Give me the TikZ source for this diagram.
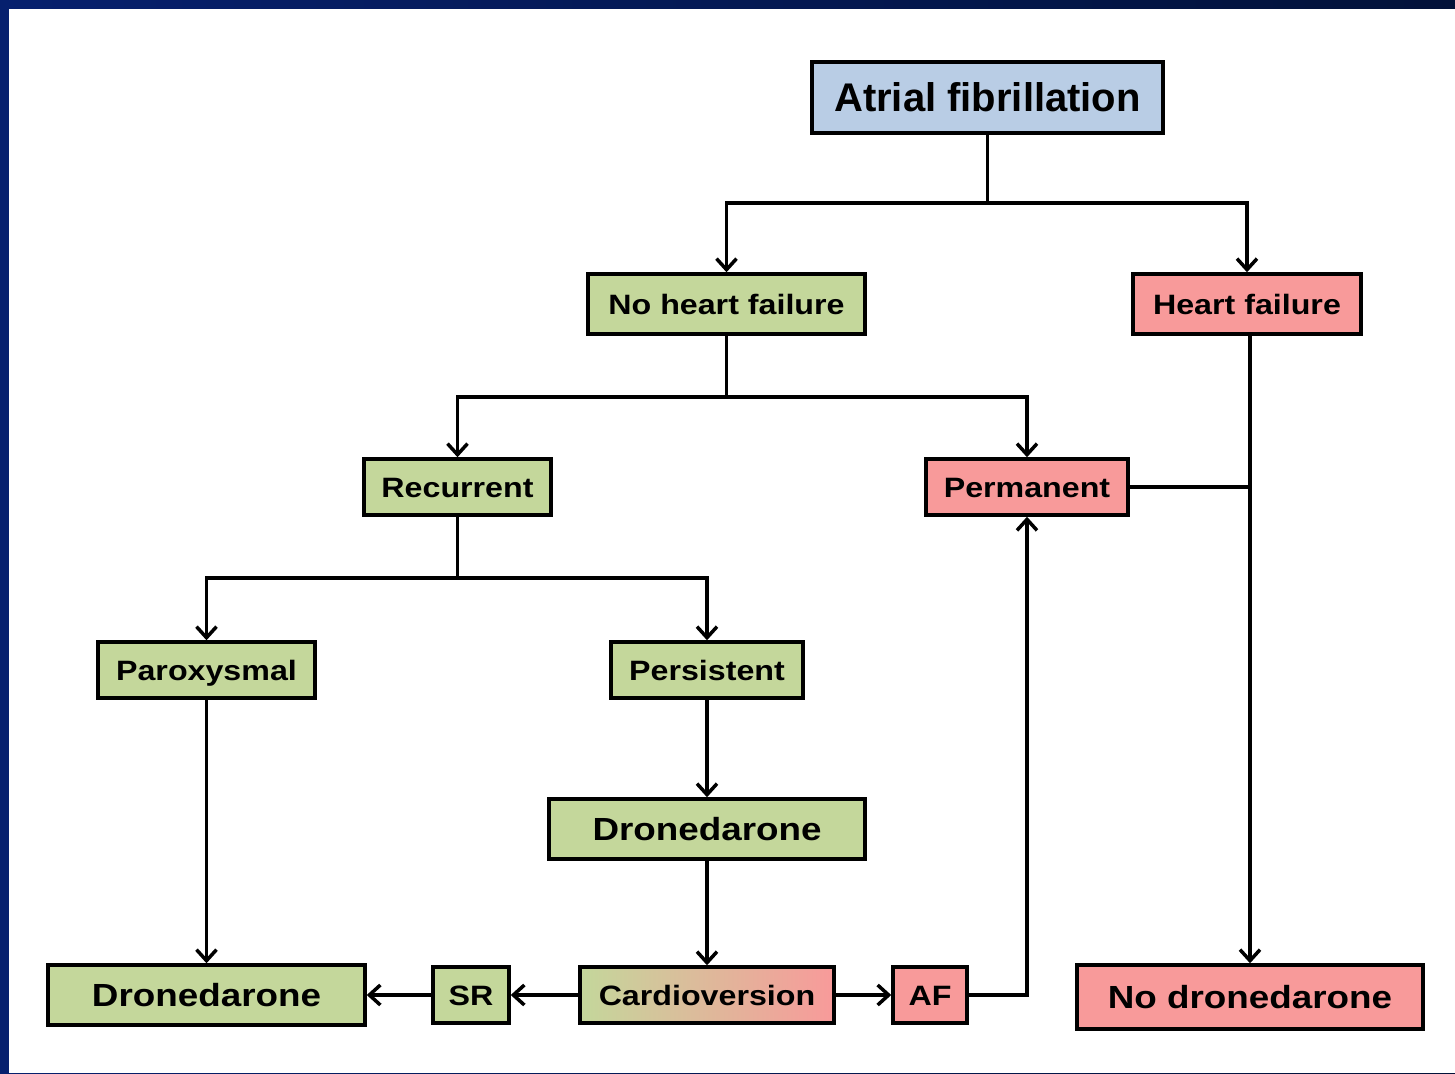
\documentclass[tikz,border=0pt]{standalone}
\usepackage{fontspec}
\setmainfont{Liberation Sans}
\newfontfamily\widesans[FakeStretch=1.15]{Liberation Sans}
\usetikzlibrary{arrows.meta}
\definecolor{slidenavy}{HTML}{06206E}
\definecolor{slidedark}{HTML}{021239}
\definecolor{boxgreen}{HTML}{C4D79B}
\definecolor{boxpink}{HTML}{F89A9A}
\definecolor{boxblue}{HTML}{B9CDE5}
\tikzset{
  box/.style={draw=black, line width=3.5pt, inner sep=0pt, align=center, text=black},
  greenbox/.style={box, fill=boxgreen},
  pinkbox/.style={box, fill=boxpink},
  % text boxes sized to the capital height so the letters sit centred
  small/.style={font=\widesans\bfseries\fontsize{28}{30}\selectfont,
                text height=20pt, text depth=0pt},
  large/.style={font=\widesans\bfseries\fontsize{32}{34}\selectfont,
                text height=23pt, text depth=0pt},
  title/.style={font=\bfseries\fontsize{40}{42}\selectfont,
                text height=28.6pt, text depth=0pt},
  link/.style={line width=3.5pt},
  arr/.style={link, -{Straight Barb[length=11pt,width=20pt]}},
}
\begin{document}
\begin{tikzpicture}[x=1pt,y=-1pt]
  % slide background with white panel
  \shade[left color=slidenavy, right color=slidedark] (0,0) rectangle (1455,1073);
  \fill[white] (9,9) rectangle (1455,1073);
  \useasboundingbox (0,0) rectangle (1455,1073);

  % boxes
  \node[box, fill=boxblue, title, minimum width=351pt, minimum height=71pt] (atf) at (987.5,97.5) {Atrial fibrillation};
  \node[greenbox, small, minimum width=277pt, minimum height=60pt] (nohf) at (726.5,304) {No heart failure};
  \node[pinkbox, small, minimum width=228pt, minimum height=60pt] (hf) at (1247,304) {Heart failure};
  \node[greenbox, small, minimum width=187pt, minimum height=56pt] (rec) at (457.5,487) {Recurrent};
  \node[pinkbox, small, minimum width=202pt, minimum height=56pt] (perm) at (1027,487) {Permanent};
  \node[greenbox, small, minimum width=217pt, minimum height=56pt] (par) at (206.5,670) {Paroxysmal};
  \node[greenbox, small, minimum width=192pt, minimum height=56pt] (pers) at (707,670) {Persistent};
  \node[greenbox, large, minimum width=316pt, minimum height=60pt] (drom) at (707,829) {Dronedarone};
  \node[greenbox, large, minimum width=317pt, minimum height=60pt] (drol) at (206.5,995) {Dronedarone};
  \node[greenbox, small, minimum width=76pt, minimum height=56pt] (sr) at (471,995) {SR};
  \node[box, left color=boxgreen, right color=boxpink, small,
        minimum width=254pt, minimum height=56pt] (card) at (707,995) {Cardioversion};
  \node[pinkbox, small, minimum width=74pt, minimum height=56pt] (afb) at (930,995) {AF};
  \node[pinkbox, large, minimum width=346pt, minimum height=64pt] (nod) at (1250,997) {No dronedarone};

  % branch points
  \coordinate (j1) at (988,203);
  \coordinate (j2) at (727,397);
  \coordinate (j3) at (458,578);

  % connectors
  \draw[link] (atf.south) -- (atf.south |- j1);
  \draw[arr] (atf.south |- j1) -| (nohf.north);
  \draw[arr] (atf.south |- j1) -| (hf.north);

  \draw[link] (nohf.south) -- (nohf.south |- j2);
  \draw[arr] (nohf.south |- j2) -| (rec.north);
  \draw[arr] (nohf.south |- j2) -| (perm.north);

  \draw[link] (rec.south) -- (rec.south |- j3);
  \draw[arr] (rec.south |- j3) -| (par.north);
  \draw[arr] (rec.south |- j3) -| (pers.north);

  \draw[arr] (par.south) -- (drol.north);
  \draw[arr] (pers.south) -- (drom.north);
  \draw[arr] (drom.south) -- (card.north);
  \draw[arr] (card.west) -- (sr.east);
  \draw[arr] (sr.west) -- (drol.east);
  \draw[arr] (card.east) -- (afb.west);
  \draw[arr] (afb.east) -| (perm.south);

  \draw[arr] (hf.south -| nod.north) -- (nod.north);
  \draw[link] (perm.east) -- (perm.east -| nod.north);
\end{tikzpicture}
\end{document}
